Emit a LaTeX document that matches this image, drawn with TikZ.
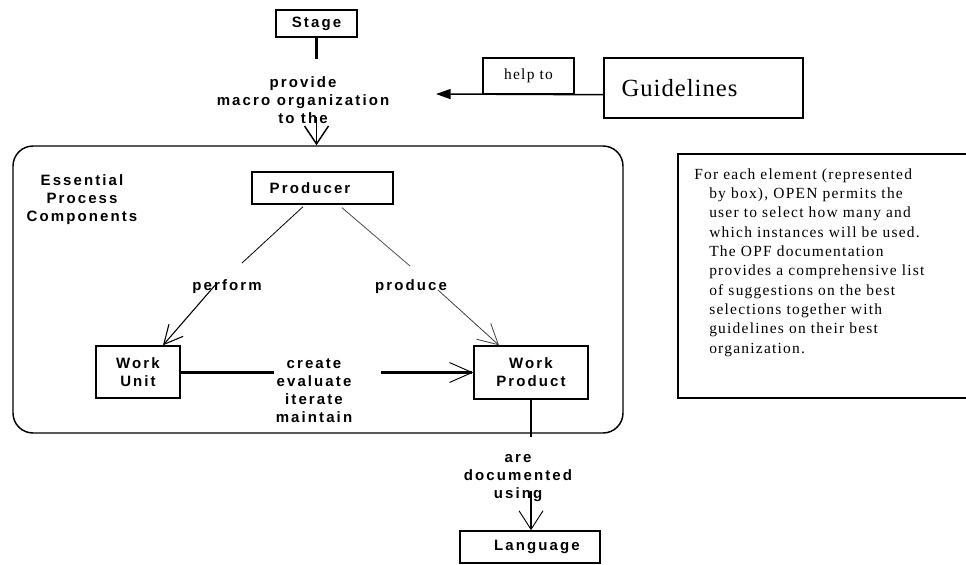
\documentclass[tikz,border=0pt]{standalone}
\usepackage{fontspec}
\setmainfont{Liberation Serif}
\newfontfamily\lsans[LetterSpace=14]{Liberation Sans}
\newfontfamily\lserif[LetterSpace=8]{Liberation Serif}
\newfontfamily\lserifg[LetterSpace=4]{Liberation Serif}
\usetikzlibrary{arrows.meta,calc}
\newcommand\bfont{\lsans\bfseries\fontsize{11.25pt}{13.5pt}\selectfont}
\newcommand\tfont{\lserif\fontsize{11.6pt}{14.5pt}\selectfont}
\newcommand\gfont{\lserifg\fontsize{18.5pt}{22pt}\selectfont}
\tikzset{
  box/.style={draw, line width=1.1pt, inner sep=0pt, font=\bfont},
  lbl/.style={inner sep=0pt, align=center, font=\bfont},
  thinline/.style={line width=0.6pt},
}
\begin{document}
\begin{tikzpicture}[x=0.75pt,y=-0.75pt]
\useasboundingbox (0,0) rectangle (966,564);

% nodes
\node[box, minimum width=60.75pt, minimum height=20.25pt] (stage) at (316.5,23.5) {Stage};
\node[lbl] (provide) at (303,100) {provide\\macro\hspace{0.45em}organization\\to the};
\node[box, font=\tfont, minimum width=68.25pt, minimum height=27pt] (helpto) at (528.5,76) {help to};
\node[box, font=\gfont, minimum width=149.25pt, minimum height=45pt] (guidelines) at (703.5,88) {Guidelines\hspace*{36pt}};
\node[draw, line width=1.1pt, rounded corners=15pt, minimum width=457.5pt, minimum height=215.25pt, inner sep=0pt] (epc) at (318,289.5) {};
\node[lbl] (epctext) at (82,200) {Essential\\Process\\Components};
\node[box, minimum width=105.75pt, minimum height=24pt] (producer) at (322.5,188) {Producer\hspace*{18.75pt}};
\node[lbl] (perform) at (227,287) {perform};
\node[lbl] (produce) at (411,287) {produce};
\node[box, align=center, minimum width=63pt, minimum height=39pt] (wu) at (138,372) {Work\\Unit};
\node[box, align=center, minimum width=85.5pt, minimum height=39.75pt] (wp) at (531,372.5) {Work\\Product};
\node[lbl] (create) at (314,390.5) {create\\evaluate\\iterate\\maintain};
\node[lbl] (aredoc) at (518,478) {are\\documented\\using};
\node[box, minimum width=105pt, minimum height=24pt] (language) at (530,547) {\hspace*{10.5pt}Language};

% note box (extends past the right edge)
\draw[line width=1.1pt] (966,154) -- (678,154) -- (678,398) -- (966,398);
\node[font=\tfont, align=left, anchor=north west, inner sep=0pt] (note) at (694,168)
 {For each element (represented\\
  \hspace*{11.25pt}by box), OPEN permits the\\
  \hspace*{11.25pt}user to select how many and\\
  \hspace*{11.25pt}which instances will be used.\\
  \hspace*{11.25pt}The OPF documentation\\
  \hspace*{11.25pt}provides a comprehensive list\\
  \hspace*{11.25pt}of suggestions on the best\\
  \hspace*{11.25pt}selections together with\\
  \hspace*{11.25pt}guidelines on their best\\
  \hspace*{11.25pt}organization.};

% coordinates
\coordinate (s1) at (316.5,59);
\coordinate (p1) at (316.5,117);
\coordinate (gtip) at (436,94);

% connectors
\draw[line width=2.2pt] (stage.south) -- (s1);
\draw[line width=1.1pt, -{Straight Barb[length=13.5pt,width=18pt,line width=1.1pt]}] (p1) -- (epc.north -| p1);
\draw[line width=1.1pt, -{Triangle[length=11pt,width=7.5pt]}] (guidelines.west |- helpto.south) -- (gtip);

\draw[thinline] ($(producer.south)+(-19.5,2)$) -- ($(perform)+(15,-24)$);
\draw[line width=0.8pt, -{Straight Barb[length=14pt,width=14pt,line width=0.8pt]}] ($(perform)+(-10,-4)$) -- ($(wu.north)+(25,0)$);

\draw[thinline, black!70] ($(producer.south)+(19.5,3)$) -- ($(produce)+(-1,-21)$);
\draw[thinline, black!75, -{Straight Barb[length=15pt,width=16pt,line width=0.6pt]}] ($(produce)+(27,3)$) -- ($(wp.north)+(-32,0)$);

\draw[line width=2.25pt] (wu.east) -- ($(wu.east)+(93,0)$);
\draw[line width=2.25pt, -{Straight Barb[length=17pt,width=15pt,line width=0.7pt]}] ($(wp.west)+(-92,0)$) -- (wp.west);

\draw[line width=0.8pt] (wp.south) -- ($(wp.south)+(0,37)$);
\draw[line width=0.8pt, -{Straight Barb[length=14pt,width=18pt,line width=0.7pt]}] ($(language.north)+(1,-39)$) -- ($(language.north)+(1,0)$);
\end{tikzpicture}
\end{document}
